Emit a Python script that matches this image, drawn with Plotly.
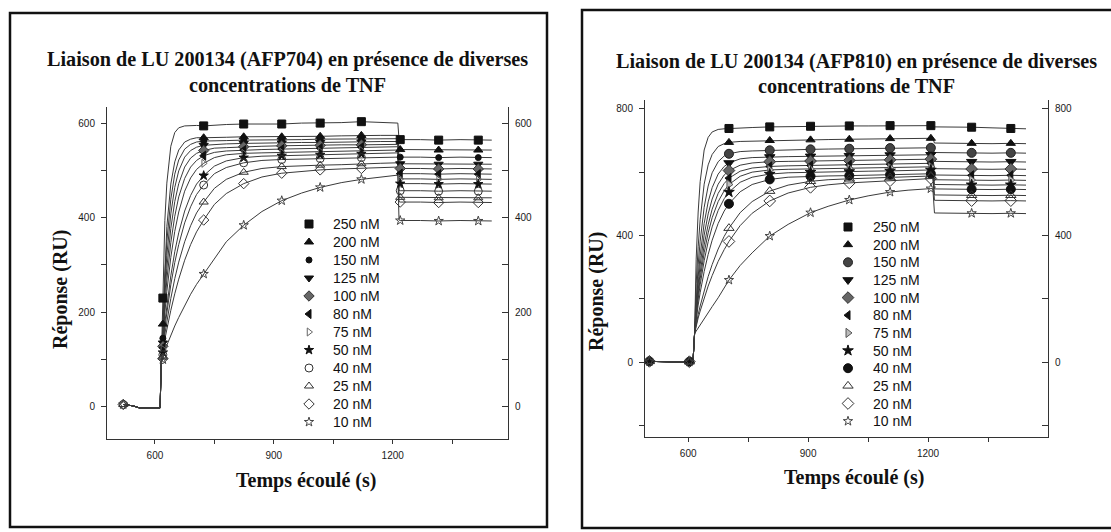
import plotly.graph_objects as go

W, H = 1111, 532


def fx(px):
    return px / W


def fy(py):
    return 1 - py / H


CONCENTRATIONS = ["250 nM", "200 nM", "150 nM", "125 nM", "100 nM", "80 nM",
                  "75 nM", "50 nM", "40 nM", "25 nM", "20 nM", "10 nM"]

# ---- AFP704 sensorgrams (time in s, response in RU) ----
TIME_704 = [520, 545, 560, 613, 616, 620, 625, 630, 640, 650, 660, 675, 690, 705,
            723, 750, 780, 824, 870, 920, 970, 1017, 1070, 1121, 1170, 1213,
            1216, 1219, 1270, 1316, 1370, 1416, 1450]
RU704_250 = [5, 2, -2, -2, 95, 230, 394, 473, 551, 580, 590, 594, 595, 595, 594, 596, 597,
             598, 598, 598, 600, 600, 601, 603, 601, 600, 566, 565, 565, 564, 565, 564, 564]
RU704_200 = [5, 2, -2, -2, 95, 175, 308, 381, 471, 518, 543, 560, 566, 569, 569, 570, 570,
             571, 571, 571, 572, 572, 573, 574, 574, 574, 545, 544, 544, 543, 544, 543, 543]
RU704_150 = [5, 2, -2, -2, 95, 145, 281, 349, 439, 492, 522, 545, 555, 560, 562, 563, 563,
             564, 564, 565, 565, 566, 566, 567, 567, 567, 529, 528, 528, 527, 528, 527, 527]
RU704_125 = [5, 2, -2, -2, 95, 135, 257, 320, 408, 464, 499, 528, 542, 549, 553, 555, 556,
             557, 558, 558, 559, 559, 560, 560, 561, 561, 515, 514, 514, 513, 514, 513, 513]
RU704_100 = [5, 2, -2, -2, 95, 128, 236, 293, 377, 434, 472, 507, 526, 536, 542, 547, 548,
             550, 551, 552, 553, 553, 554, 554, 555, 555, 505, 504, 504, 503, 504, 503, 503]
RU704_80 = [5, 2, -2, -2, 95, 125, 217, 268, 347, 403, 444, 483, 507, 521, 531, 538, 541,
            543, 544, 545, 546, 547, 548, 549, 550, 550, 494, 493, 493, 492, 493, 492, 492]
RU704_75 = [5, 2, -2, -2, 95, 122, 199, 244, 316, 371, 412, 456, 484, 502, 515, 527, 533,
            536, 537, 538, 539, 540, 541, 542, 543, 543, 483, 482, 482, 481, 482, 481, 481]
RU704_50 = [5, 2, -2, -2, 95, 115, 178, 214, 277, 328, 368, 414, 447, 471, 489, 509, 520,
            527, 530, 531, 532, 533, 534, 535, 536, 537, 473, 472, 472, 471, 472, 471, 471]
RU704_40 = [5, 2, -2, -2, 95, 110, 168, 201, 258, 305, 343, 389, 423, 449, 469, 493, 506,
            516, 521, 523, 524, 525, 526, 527, 528, 528, 458, 457, 457, 456, 457, 456, 456]
RU704_25 = [5, 2, -2, -2, 95, 105, 154, 181, 229, 271, 306, 349, 383, 410, 433, 462, 481,
            496, 504, 508, 510, 511, 512, 514, 515, 516, 444, 443, 443, 442, 443, 442, 442]
RU704_20 = [5, 2, -2, -2, 95, 102, 143, 165, 204, 239, 270, 310, 343, 370, 395, 428, 451,
            472, 486, 494, 498, 501, 503, 504, 506, 507, 434, 433, 433, 432, 433, 432, 432]
RU704_10 = [5, 2, -2, -2, 95, 100, 120, 131, 151, 171, 189, 215, 238, 259, 281, 315, 349,
            384, 413, 436, 452, 464, 474, 481, 486, 490, 395, 394, 394, 393, 394, 393, 393]
SERIES_704 = [RU704_250, RU704_200, RU704_150, RU704_125, RU704_100, RU704_80,
              RU704_75, RU704_50, RU704_40, RU704_25, RU704_20, RU704_10]
MARK_TIMES_704 = [620, 723, 824, 920, 1017, 1121, 1219, 1316, 1416]
BASE_MARK_TIMES_704 = [520]

# ---- AFP810 sensorgrams ----
TIME_810 = [503, 540, 580, 603, 612, 616, 620, 625, 630, 640, 650, 660, 675, 690, 702,
            730, 760, 804, 850, 906, 950, 1003, 1050, 1105, 1150, 1207, 1212,
            1216, 1260, 1309, 1360, 1407, 1445]
RU810_250 = [2, 0, 0, 1, 0, 90, 325, 474, 570, 670, 710, 727, 735, 737, 738, 740, 741,
             743, 744, 745, 745, 746, 746, 747, 747, 747, 747, 743, 743, 742, 740, 738, 737]
RU810_200 = [2, 0, 0, 1, 0, 90, 247, 364, 450, 562, 623, 656, 681, 690, 694, 697, 698,
             700, 701, 702, 703, 704, 705, 706, 706, 707, 707, 692, 691, 691, 690, 691, 690]
RU810_150 = [2, 0, 0, 1, 0, 90, 211, 307, 382, 489, 556, 598, 633, 651, 658, 665, 667,
             669, 670, 672, 673, 674, 675, 676, 676, 677, 677, 662, 661, 661, 660, 661, 660]
RU810_125 = [2, 0, 0, 1, 0, 90, 189, 270, 337, 438, 506, 551, 594, 618, 629, 642, 646,
             648, 649, 650, 651, 652, 653, 654, 655, 655, 655, 634, 633, 633, 632, 633, 632]
RU810_100 = [2, 0, 0, 1, 0, 90, 175, 246, 307, 401, 468, 515, 562, 591, 605, 622, 629,
             633, 634, 635, 636, 637, 638, 639, 640, 641, 641, 611, 610, 610, 609, 610, 609]
RU810_80 = [2, 0, 0, 1, 0, 90, 164, 227, 282, 370, 434, 483, 533, 564, 581, 603, 613,
            618, 620, 621, 622, 623, 624, 625, 627, 628, 628, 591, 590, 590, 589, 590, 589]
RU810_75 = [2, 0, 0, 1, 0, 90, 156, 213, 263, 345, 408, 456, 507, 541, 561, 587, 600,
            607, 609, 610, 611, 612, 613, 614, 616, 617, 617, 576, 575, 575, 574, 575, 574]
RU810_50 = [2, 0, 0, 1, 0, 90, 148, 199, 244, 320, 380, 427, 479, 516, 537, 568, 584,
            594, 598, 600, 601, 602, 603, 604, 606, 607, 607, 561, 560, 560, 559, 560, 559]
RU810_40 = [2, 0, 0, 1, 0, 90, 137, 180, 219, 286, 340, 385, 438, 477, 500, 538, 561,
            577, 584, 587, 588, 589, 590, 592, 594, 595, 595, 547, 546, 546, 545, 546, 545]
RU810_25 = [2, 0, 0, 1, 0, 90, 121, 150, 177, 226, 270, 308, 357, 397, 423, 472, 507,
            540, 559, 571, 576, 579, 581, 583, 586, 588, 588, 528, 527, 527, 526, 527, 526]
RU810_20 = [2, 0, 0, 1, 0, 90, 115, 139, 161, 203, 240, 273, 318, 355, 381, 431, 470,
            509, 534, 552, 560, 566, 569, 573, 576, 580, 580, 511, 510, 510, 509, 510, 509]
RU810_10 = [2, 0, 0, 1, 0, 90, 98, 106, 114, 135, 155, 175, 203, 235, 259, 305, 345,
            398, 435, 472, 492, 512, 525, 537, 543, 548, 548, 471, 470, 470, 469, 470, 469]
SERIES_810 = [RU810_250, RU810_200, RU810_150, RU810_125, RU810_100, RU810_80,
              RU810_75, RU810_50, RU810_40, RU810_25, RU810_20, RU810_10]
MARK_TIMES_810 = [702, 804, 906, 1003, 1105, 1207, 1309, 1407]
BASE_MARK_TIMES_810 = [503, 603]

# open-symbol series also carry a marker on the baseline
BASELINE_MARKED = ["40 nM", "25 nM", "20 nM", "10 nM"]

# marker styles: (symbol, fill colour, outline colour, size)
STYLE_704 = {
    "250 nM": ("square", "#111", "#111", 8),
    "200 nM": ("triangle-up", "#111", "#111", 8),
    "150 nM": ("circle", "#111", "#111", 6),
    "125 nM": ("triangle-down", "#111", "#111", 8),
    "100 nM": ("diamond", "#666", "#333", 8),
    "80 nM": ("triangle-left", "#111", "#111", 8),
    "75 nM": ("triangle-right-open", "#666", "#666", 7),
    "50 nM": ("star", "#111", "#111", 7),
    "40 nM": ("circle-open", "#333", "#333", 8),
    "25 nM": ("triangle-up-open", "#333", "#333", 8),
    "20 nM": ("diamond-open", "#333", "#333", 8),
    "10 nM": ("star-open", "#444", "#444", 7),
}
STYLE_810 = {
    "250 nM": ("square", "#111", "#111", 8),
    "200 nM": ("triangle-up", "#111", "#111", 8),
    "150 nM": ("circle", "#444", "#222", 9),
    "125 nM": ("triangle-down", "#111", "#111", 9),
    "100 nM": ("diamond", "#666", "#333", 9),
    "80 nM": ("triangle-left", "#111", "#111", 8),
    "75 nM": ("triangle-right", "#bbb", "#555", 8),
    "50 nM": ("star", "#111", "#111", 8),
    "40 nM": ("circle", "#111", "#111", 9),
    "25 nM": ("triangle-up-open", "#333", "#333", 9),
    "20 nM": ("diamond-open", "#333", "#333", 9),
    "10 nM": ("star-open", "#444", "#444", 7),
}

# key blocks: marker column, text column, first row and row pitch (pixels)
KEY_704 = dict(marker_x=309, text_x=331, top=224, step=18.0)
KEY_810 = dict(marker_x=848, text_x=871, top=227, step=17.65)

LINE_COLOR = "#3a3a3a"
SANS = "Liberation Sans"
SERIF = "Liberation Serif"

fig = go.Figure()


def add_panel(times, series, mark_times, base_marks, style, xa, ya):
    for name, values in zip(CONCENTRATIONS, series):
        fig.add_trace(go.Scatter(
            x=times, y=values, mode="lines", xaxis=xa, yaxis=ya, name=name,
            line=dict(color=LINE_COLOR, width=1), showlegend=False,
            hoverinfo="skip"))
    for name, values in zip(CONCENTRATIONS, series):
        mt = list(mark_times)
        if name in BASELINE_MARKED:
            mt = list(base_marks) + mt
        my = [values[times.index(t)] for t in mt]
        sym, fill, edge, size = style[name]
        fig.add_trace(go.Scatter(
            x=mt, y=my, mode="markers", name=name, xaxis=xa, yaxis=ya,
            showlegend=False,
            marker=dict(symbol=sym, color=fill, size=size, opacity=1,
                        line=dict(color=edge, width=1)),
            hoverinfo="skip"))


def add_key(style, spec):
    # key drawn on a full-figure pixel overlay (x3 / y5)
    rows = [spec["top"] + spec["step"] * i for i in range(len(CONCENTRATIONS))]
    fig.add_trace(go.Scatter(
        x=[spec["marker_x"]] * len(rows), y=rows, mode="markers",
        xaxis="x3", yaxis="y5", showlegend=False, hoverinfo="skip",
        marker=dict(symbol=[style[c][0] for c in CONCENTRATIONS],
                    color=[style[c][1] for c in CONCENTRATIONS],
                    size=[style[c][3] for c in CONCENTRATIONS],
                    opacity=1,
                    line=dict(color=[style[c][2] for c in CONCENTRATIONS], width=1))))
    for c, r in zip(CONCENTRATIONS, rows):
        fig.add_annotation(text=c, x=spec["text_x"], y=r, xref="x3", yref="y5",
                           xanchor="left", yanchor="middle", showarrow=False,
                           font=dict(family=SANS, size=14, color="#111"))


add_panel(TIME_704, SERIES_704, MARK_TIMES_704, BASE_MARK_TIMES_704, STYLE_704,
          "x", "y")
add_panel(TIME_810, SERIES_810, MARK_TIMES_810, BASE_MARK_TIMES_810, STYLE_810,
          "x2", "y2")

# empty traces so the mirrored right-hand axes are drawn
fig.add_trace(go.Scatter(x=[None], y=[None], xaxis="x", yaxis="y3",
                         showlegend=False, hoverinfo="skip"))
fig.add_trace(go.Scatter(x=[None], y=[None], xaxis="x2", yaxis="y4",
                         showlegend=False, hoverinfo="skip"))

add_key(STYLE_704, KEY_704)
add_key(STYLE_810, KEY_810)

tickfont = dict(family=SANS, size=10, color="#1a1a1a")
base_axis = dict(showline=True, linecolor="#333", linewidth=1, tickcolor="#333",
                 tickwidth=1, showgrid=False, zeroline=False, tickfont=tickfont)

x_ticks = [600, 900, 1200]
x_minor = [750, 1050, 1350]

fig.update_layout(
    width=W, height=H, margin=dict(l=0, r=0, t=0, b=0),
    paper_bgcolor="white", plot_bgcolor="rgba(0,0,0,0)", hovermode=False,
    showlegend=False,
    xaxis=dict(base_axis, domain=[fx(107), fx(508)], range=[479, 1491], anchor="y",
               tickvals=x_ticks, ticks="outside", ticklen=4, ticklabelstandoff=3,
               minor=dict(tickvals=x_minor, ticks="outside", ticklen=4,
                          tickcolor="#333")),
    yaxis=dict(base_axis, domain=[fy(439), fy(107)], range=[-68, 634], anchor="x",
               tickvals=[0, 200, 400, 600], ticks="outside", ticklen=5,
               ticklabelstandoff=4,
               minor=dict(tickvals=[100, 300, 500], ticks="outside", ticklen=5,
                          tickcolor="#333")),
    yaxis3=dict(base_axis, overlaying="y", side="right", anchor="x",
                range=[-68, 634], tickvals=[0, 200, 400, 600], ticks="inside",
                ticklen=6, ticklabelstandoff=4,
                minor=dict(tickvals=[100, 300, 500], ticks="inside", ticklen=6,
                           tickcolor="#333")),
    xaxis2=dict(base_axis, domain=[fx(645), fx(1048)], range=[492, 1500], anchor="y2",
                tickvals=x_ticks, ticks="outside", ticklen=4, ticklabelstandoff=3,
                minor=dict(tickvals=x_minor, ticks="outside", ticklen=4,
                           tickcolor="#333")),
    yaxis2=dict(base_axis, domain=[fy(437), fy(100)], range=[-237, 828], anchor="x2",
                tickvals=[0, 400, 800], ticks="outside", ticklen=5,
                ticklabelstandoff=4,
                minor=dict(tickvals=[-200, 200, 600], ticks="outside", ticklen=5,
                           tickcolor="#333")),
    yaxis4=dict(base_axis, overlaying="y2", side="right", anchor="x2",
                range=[-237, 828], tickvals=[0, 400, 800], ticks="inside",
                ticklen=6, ticklabelstandoff=4,
                minor=dict(tickvals=[-200, 200, 600], ticks="inside", ticklen=6,
                           tickcolor="#333")),
    # pixel overlay for the keys
    xaxis3=dict(domain=[0, 1], range=[0, W], anchor="y5", visible=False,
                fixedrange=True),
    yaxis5=dict(domain=[0, 1], range=[H, 0], anchor="x3", visible=False,
                fixedrange=True),
)

title_font = dict(family=SERIF, size=20.2, color="#111")
axis_title_font = dict(family=SERIF, size=20, color="#111")

annotations = [
    dict(text="<b>Liaison de LU 200134 (AFP704) en présence de diverses</b>",
         x=fx(287), y=fy(60), font=title_font),
    dict(text="<b>concentrations de TNF</b>", x=fx(287), y=fy(85), font=title_font),
    dict(text="<b>Liaison de LU 200134 (AFP810) en présence de diverses</b>",
         x=fx(856), y=fy(62), font=title_font),
    dict(text="<b>concentrations de TNF</b>", x=fx(856), y=fy(86), font=title_font),
    dict(text="<b>Réponse (RU)</b>", x=fx(60), y=fy(290), textangle=-90,
         font=axis_title_font),
    dict(text="<b>Réponse (RU)</b>", x=fx(596), y=fy(292), textangle=-90,
         font=axis_title_font),
    dict(text="<b>Temps écoulé (s)</b>", x=fx(306), y=fy(480), font=axis_title_font),
    dict(text="<b>Temps écoulé (s)</b>", x=fx(854), y=fy(477), font=axis_title_font),
]
for a in annotations:
    fig.add_annotation(xref="paper", yref="paper", showarrow=False,
                       xanchor="center", yanchor="middle", align="center", **a)

# panel frames
fig.add_shape(type="rect", xref="paper", yref="paper",
              x0=fx(10), x1=fx(547), y0=fy(527), y1=fy(13),
              line=dict(color="#111", width=2.5))
fig.add_shape(type="rect", xref="paper", yref="paper",
              x0=fx(582), x1=fx(1120), y0=fy(528), y1=fy(10),
              line=dict(color="#111", width=2.5))

fig.write_html("out.html")
